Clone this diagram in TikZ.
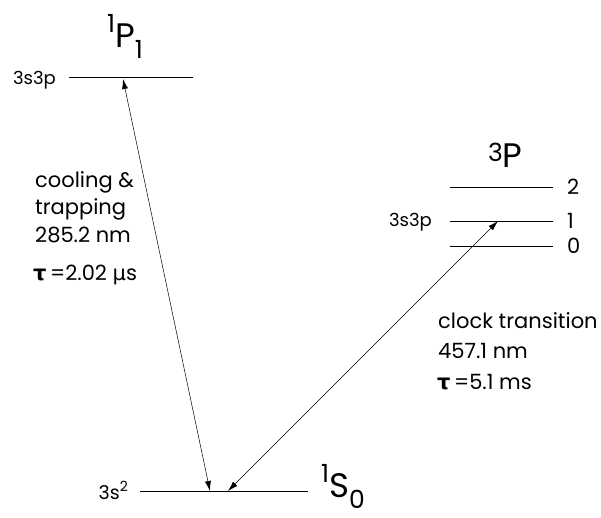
\documentclass[tikz,border=0pt]{standalone}
\usepackage{fontspec}
\setmainfont{Poppins}
\newfontfamily\grk{DejaVu Sans}
\usetikzlibrary{arrows.meta,positioning,calc}
% term symbol: #1 superscript, #2 letter, #3 subscript, #4 raise of the superscript
\newcommand{\term}[4]{\raisebox{#4}{\fontsize{25}{25}\selectfont #1}#2\raisebox{-11pt}{\fontsize{25}{25}\selectfont #3}}
\newcommand{\tautxt}{{\grk\bfseries τ}}

\begin{document}
\begin{tikzpicture}[x=1pt,y=-1pt,>={Latex[length=10pt,width=6pt]},
  level/.style={line width=0.9pt},
  trans/.style={<->,line width=0.5pt},
  big/.style={font=\fontsize{34}{34}\selectfont,anchor=base west},
  cfg/.style={font=\fontsize{18}{18}\selectfont},
  every node/.style={font=\fontsize{21}{21}\selectfont,inner sep=0pt}]
\useasboundingbox (0,0) rectangle (601,518);
% levels
\coordinate (pl) at (69,77); \coordinate (pr) at (193,77);
\coordinate (sl) at (140,491); \coordinate (sr) at (308,491);
\coordinate (t2l) at (450,187); \coordinate (t2r) at (553,187);
\coordinate (t1l) at (450,221); \coordinate (t1r) at (553,221);
\coordinate (t0l) at (450,246); \coordinate (t0r) at (553,246);
\draw[level] (pl)--(pr);
\draw[level] (sl)--(sr);
\draw[level] (t2l)--(t2r);
\draw[level] (t1l)--(t1r);
\draw[level] (t0l)--(t0r);
% labels
\node (pname) [big] at (107,48) {\term{1}{P}{1}{15pt}};
\node (pcfg) [cfg,anchor=east] at (56,80) {3s3p};
\node (tname) [big] at (488,168) {\term{3}{P}{}{6pt}};
\node (tcfg) [cfg,anchor=east] at (432,222) {3s3p};
\node (j2) [right=14pt of t2r] {2};
\node (j1) [right=14pt of t1r] {1};
\node (j0) [right=14pt of t0r] {0};
\node (scfg) [cfg,anchor=base east,font=\fontsize{19}{19}\selectfont] at (128,499) {3s\raisebox{8pt}{\fontsize{14}{14}\selectfont 2}};
\node (sname) [big] at (321,497) {\term{1}{S}{0}{15pt}};
% transitions
\coordinate (pa) at (123,79); \coordinate (sa) at (210,491);
\coordinate (sb) at (228,491); \coordinate (ta) at (498,221);
\draw[trans] (pa)--(sa);
\draw[trans] (sb)--(ta);
\node (cool) [anchor=base west] at (35,188) {cooling \&};
\node (trap) [anchor=base west] at (35,215) {trapping};
\node (coolwl) [anchor=base west] at (35,243) {285.2 nm};
\node (coolt) [anchor=base west] at (33,280) {\tautxt\,=2.02 {\grk μ}s};
\node (clock) [anchor=base west] at (438,328) {clock transition};
\node (clockwl) [anchor=base west] at (438,358) {457.1 nm};
\node (clockt) [anchor=base west] at (437,389) {\tautxt\,=5.1 ms};
\end{tikzpicture}
\end{document}
